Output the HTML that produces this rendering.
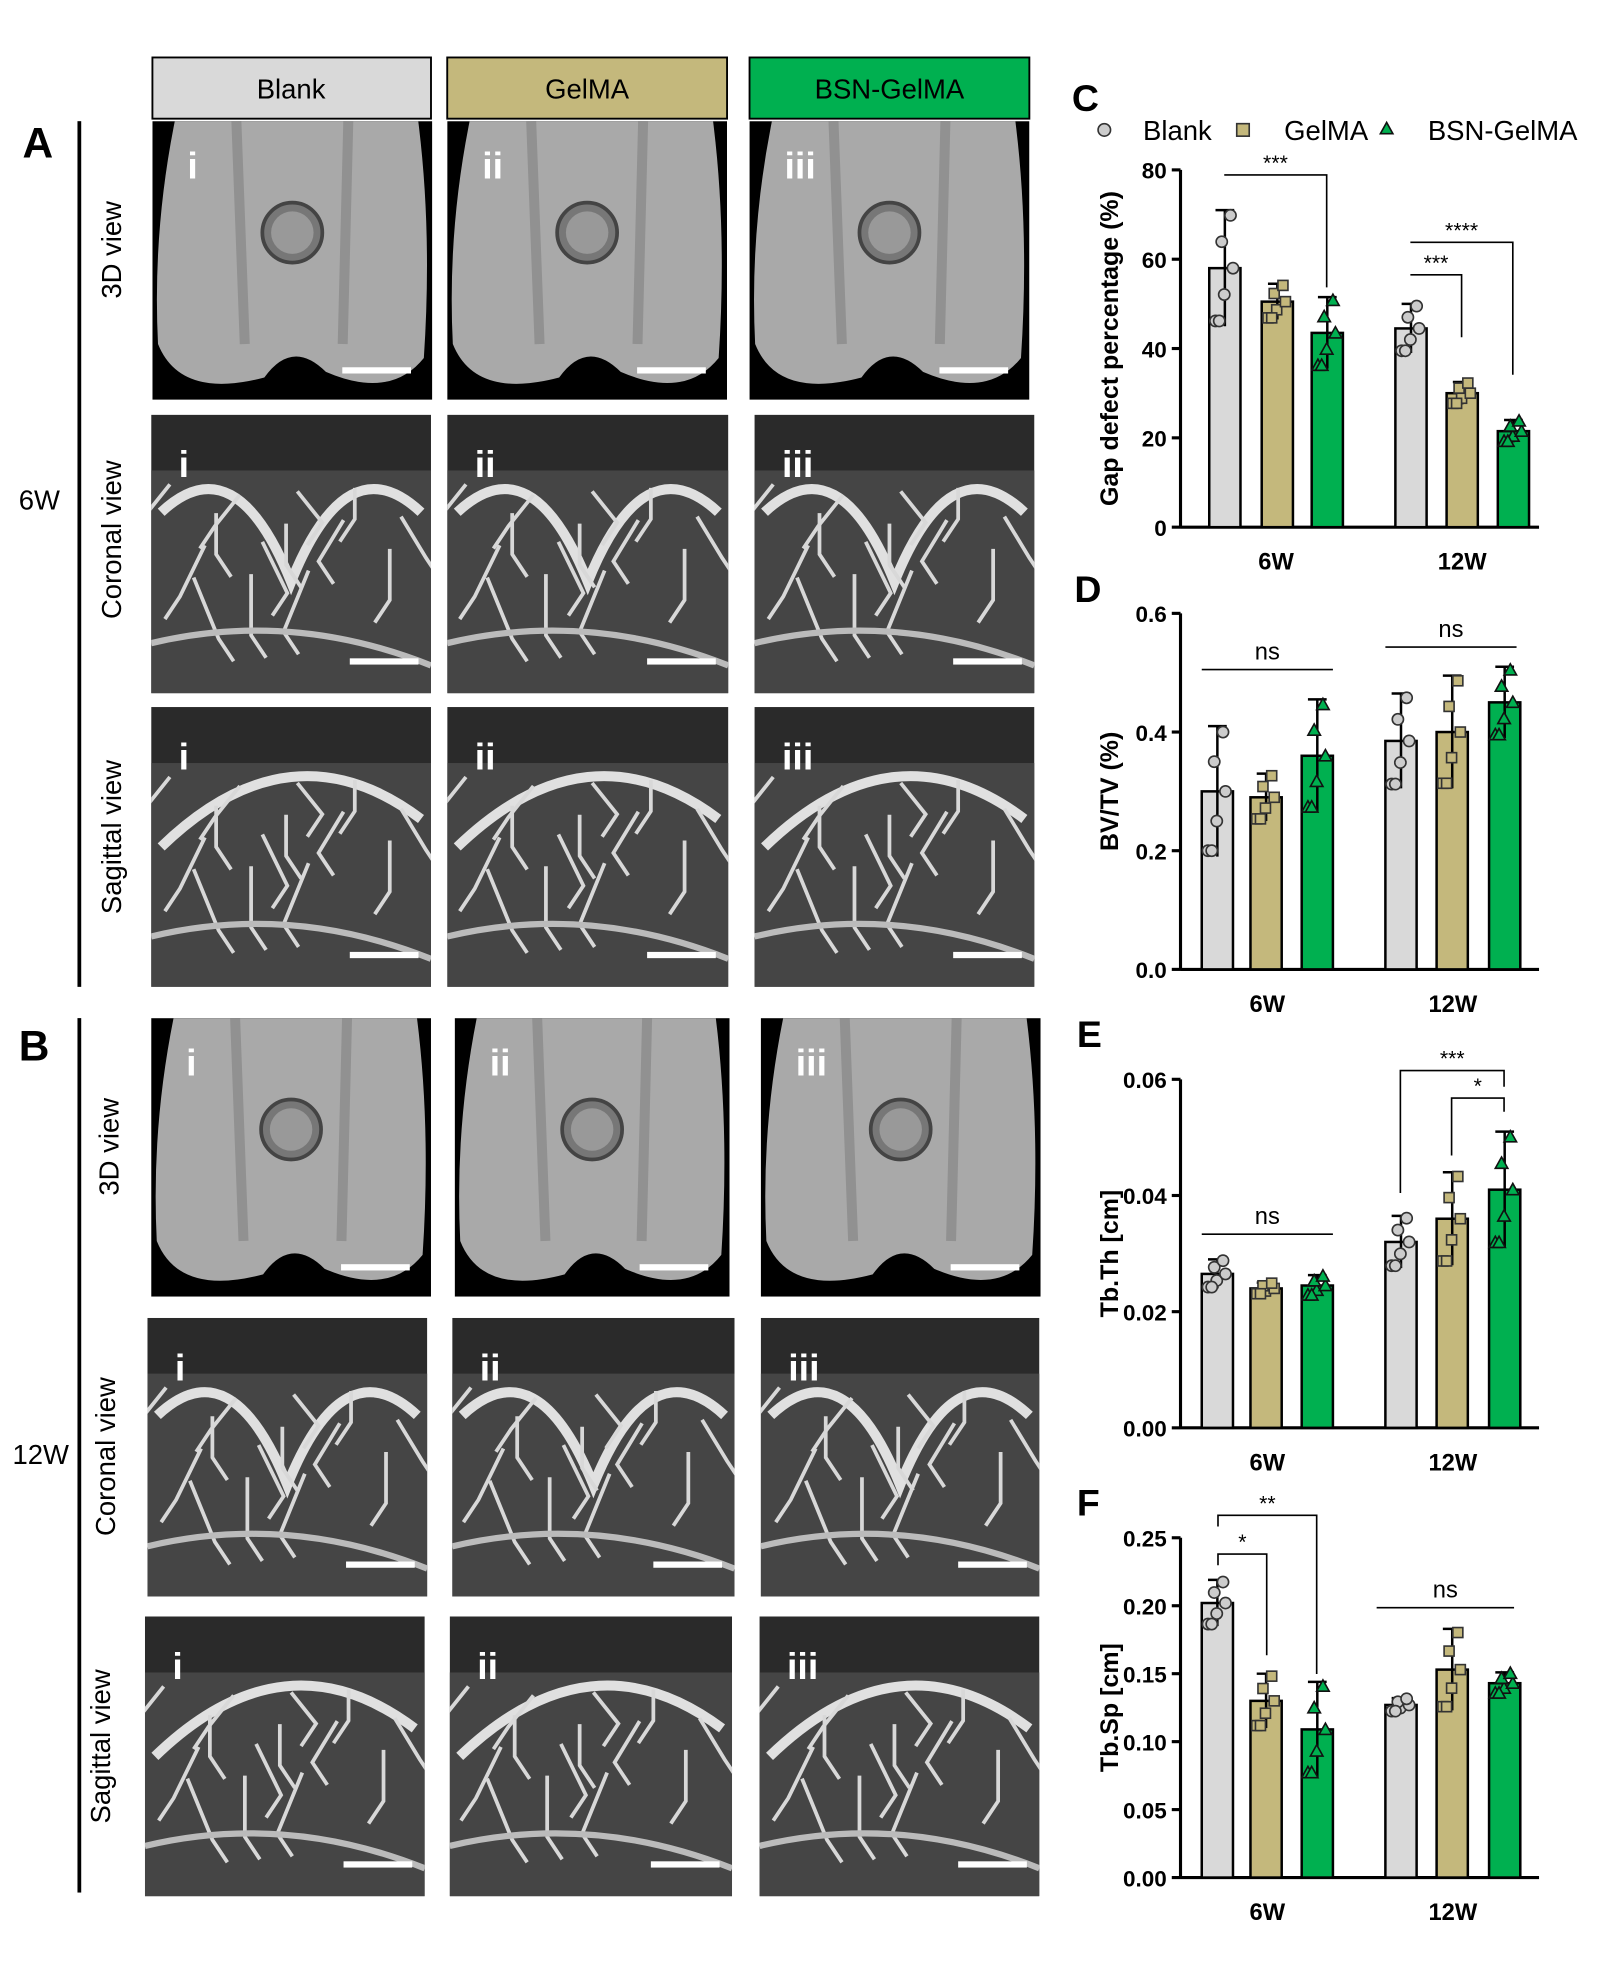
<!DOCTYPE html>
<html><head><meta charset="utf-8"><style>html,body{margin:0;padding:0;background:#fff}svg{display:block}</style></head>
<body>
<svg id="s" width="1624" height="1970" viewBox="0 0 1300 1577" xmlns="http://www.w3.org/2000/svg" font-family="Liberation Sans, Arial, sans-serif"></svg>
<script>
const s=document.getElementById('s');let h='';let cid=0;
function R(x,y,w,hh,f,extra){h+=`<rect x="${x}" y="${y}" width="${w}" height="${hh}" fill="${f}" ${extra||''}/>`;}
function T(x,y,t,sz,extra){h+=`<text x="${x}" y="${y}" font-size="${sz}" ${extra||''}>${t}</text>`;}
function clipOpen(x,y,w,hh){cid++;h+=`<clipPath id="c${cid}"><rect x="${x}" y="${y}" width="${w}" height="${hh}"/></clipPath><g clip-path="url(#c${cid})">`;}
// headers
R(122,46,223,49,'#d9d9d9','stroke="#000" stroke-width="1.5"');T(233,79,'Blank',22,'text-anchor="middle"');
R(358,46,224,49,'#c4b87c','stroke="#000" stroke-width="1.5"');T(470,79,'GelMA',22,'text-anchor="middle"');
R(600,46,224,49,'#00b050','stroke="#000" stroke-width="1.5"');T(712,79,'BSN-GelMA',22,'text-anchor="middle"');
const rn=['i','ii','iii'];
function img3d(x,y,w,hh,k){clipOpen(x,y,w,hh);R(x,y,w,hh,'#000');
 h+=`<path d="M${x+w*0.08} ${y} L${x+w*0.95} ${y} Q${x+w} ${y+hh*0.4} ${x+w*0.97} ${y+hh*0.85} Q${x+w*0.85} ${y+hh} ${x+w*0.62} ${y+hh*0.9} Q${x+w*0.5} ${y+hh*0.78} ${x+w*0.4} ${y+hh*0.92} Q${x+w*0.1} ${y+hh} ${x+w*0.02} ${y+hh*0.8} Q${x} ${y+hh*0.4} ${x+w*0.08} ${y} Z" fill="#a9a9a9"/>`;
 h+=`<path d="M${x+w*0.3} ${y} L${x+w*0.33} ${y+hh*0.8} M${x+w*0.7} ${y} L${x+w*0.68} ${y+hh*0.8}" stroke="#7a7a7a" stroke-width="8" opacity="0.5"/>`;
 h+=`<circle cx="${x+w*0.5}" cy="${y+hh*0.4}" r="24" fill="#777" stroke="#444" stroke-width="3"/><circle cx="${x+w*0.5}" cy="${y+hh*0.4}" r="17" fill="#999"/>`;
 T(x+28,y+46,rn[k],30,'fill="#fff" font-weight="bold"');
 R(x+w-72,y+hh-26,55,5,'#fff');h+='</g>';}
function imgsec(x,y,w,hh,k,cor){clipOpen(x,y,w,hh);R(x,y,w,hh,'#2a2a2a');R(x,y+hh*0.2,w,hh*0.8,'#454545');
 let d=cor?`M${x+8} ${y+hh*0.35} Q${x+w*0.3} ${y+hh*0.1} ${x+w*0.5} ${y+hh*0.6} Q${x+w*0.7} ${y+hh*0.1} ${x+w-8} ${y+hh*0.35}`:`M${x+8} ${y+hh*0.5} Q${x+w*0.5} ${y+hh*0.05} ${x+w-8} ${y+hh*0.4}`;
 h+=`<path d="${d}" stroke="#e0e0e0" stroke-width="8" fill="none"/>`;
 for(let i=0;i<14;i++){const a=x+15+((i*37)%(w-30)),b=y+hh*0.25+((i*23)%(hh*0.4));h+=`<path d="M${a} ${b} l${(i%3-1)*20} ${25+i%4*8} l${(i%2?12:-12)} 18" stroke="#d8d8d8" stroke-width="3" fill="none"/>`;}
 h+=`<path d="M${x} ${y+hh*0.82} Q${x+w*0.5} ${y+hh*0.7} ${x+w} ${y+hh*0.9}" stroke="#bbb" stroke-width="5" fill="none"/>`;
 T(x+22,y+50,rn[k],30,'fill="#fff" font-weight="bold"');R(x+w-65,y+hh-28,55,5,'#fff');h+='</g>';}
[[122,224],[358,224],[600,224]].forEach((c,k)=>img3d(c[0],97,c[1],223,k));
[[121,224],[358,225],[604,224]].forEach((c,k)=>imgsec(c[0],332,c[1],223,k,1));
[[121,224],[358,225],[604,224]].forEach((c,k)=>imgsec(c[0],566,c[1],224,k,0));
[[121,224],[364,220],[609,224]].forEach((c,k)=>img3d(c[0],815,c[1],223,k));
[[118,224],[362,226],[609,223]].forEach((c,k)=>imgsec(c[0],1055,c[1],223,k,1));
[[116,224],[360,226],[608,224]].forEach((c,k)=>imgsec(c[0],1294,c[1],224,k,0));
R(62,97,3,693,'#000');R(62,815,3,700,'#000');
T(18,126,'A',34,'font-weight="bold"');T(15,849,'B',34,'font-weight="bold"');
T(15,408,'6W',22);T(10,1172,'12W',22);
function rot(x,y,t){h+=`<text transform="translate(${x},${y}) rotate(-90)" font-size="22" text-anchor="middle">${t}</text>`;}
rot(97,200,'3D view');rot(97,432,'Coronal view');rot(97,670,'Sagittal view');
rot(95,918,'3D view');rot(92,1166,'Coronal view');rot(88,1398,'Sagittal view');
const cols=['#d9d9d9','#c4b87c','#00b050'];
function chart(o){const{x0,ytop,ybot,max,ticks,fmt,vals,xs,ylab,L,sig}=o;const sc=(ybot-ytop)/max;
 const Y=v=>ybot-v*sc;
 h+=`<line x1="${x0}" y1="${ytop}" x2="${x0}" y2="${ybot}" stroke="#000" stroke-width="2.5"/><line x1="${x0}" y1="${ybot}" x2="1232" y2="${ybot}" stroke="#000" stroke-width="2.5"/>`;
 ticks.forEach(t=>{h+=`<line x1="${x0-7}" y1="${Y(t)}" x2="${x0}" y2="${Y(t)}" stroke="#000" stroke-width="2.5"/>`;T(x0-11,Y(t)+7,fmt(t),18,'text-anchor="end" font-weight="bold"');});
 vals.forEach((v,i)=>{const x=xs[i],g=i%3;R(x,Y(v[0]),25,ybot-Y(v[0]),cols[g],'stroke="#000" stroke-width="2"');
  h+=`<line x1="${x+12.5}" y1="${Y(v[0]+v[1])}" x2="${x+12.5}" y2="${Y(v[0]-v[1])}" stroke="#000" stroke-width="2"/><line x1="${x+5}" y1="${Y(v[0]+v[1])}" x2="${x+20}" y2="${Y(v[0]+v[1])}" stroke="#000" stroke-width="2"/>`;
  for(let j=0;j<6;j++){const px=x+5+(j*7)%16,py=Y(v[0]+v[1]*((j%5)-2)/2.2);
   if(g==0)h+=`<circle cx="${px}" cy="${py}" r="4.5" fill="#ccc" stroke="#333" stroke-width="1.3"/>`;
   else if(g==1)h+=`<rect x="${px-4}" y="${py-4}" width="8" height="8" fill="#c4b87c" stroke="#333" stroke-width="1.3"/>`;
   else h+=`<path d="M${px} ${py-5} l5 9 h-10z" fill="#00b050" stroke="#111" stroke-width="1.3"/>`;}
 });
 T((xs[0]+xs[2]+25)/2,ybot+34,'6W',19,'text-anchor="middle" font-weight="bold"');T((xs[3]+xs[5]+25)/2,ybot+34,'12W',19,'text-anchor="middle" font-weight="bold"');
 h+=`<text transform="translate(${x0-50},${(ytop+ybot)/2}) rotate(-90)" font-size="20" font-weight="bold" text-anchor="middle">${ylab}</text>`;
 T(L[0],L[1],L[2],30,'font-weight="bold"');
 (sig||[]).forEach(q=>{const[a,b,y,t]=q;if(b===null){h+=`<line x1="${a[0]}" y1="${y}" x2="${a[1]}" y2="${y}" stroke="#000" stroke-width="1.3"/>`;T((a[0]+a[1])/2,y-8,t,19,'text-anchor="middle"');}
  else{h+=`<path d="M${a[0]} ${a[1]} V${y} H${b[0]} V${b[1]}" stroke="#000" stroke-width="1.3" fill="none"/>`;T((a[0]+b[0])/2,y-4,t,17,'text-anchor="middle"');}});
}
chart({x0:945,ytop:136,ybot:422,max:80,ticks:[0,20,40,60,80],fmt:t=>t,vals:[[58,13],[50.5,4],[43.5,8],[44.5,5.5],[30,2.5],[21.5,2.5]],xs:[968,1010,1050,1117,1158,1199],ylab:'Gap defect percentage (%)',L:[858,89,'C'],
 sig:[[[980,140],[1062,230],140,'***'],[[1129,220],[1170,270],220,'***'],[[1129,194],[1211,300],194,'****']]});
chart({x0:945,ytop:491,ybot:776,max:0.6,ticks:[0,0.2,0.4,0.6],fmt:t=>t.toFixed(1),vals:[[.30,.11],[.29,.04],[.36,.095],[.385,.08],[.40,.095],[.45,.06]],xs:[962,1001,1042,1109,1150,1192],ylab:'BV/TV (%)',L:[860,482,'D'],
 sig:[[[962,1067],null,536,'ns'],[[1109,1214],null,518,'ns']]});
chart({x0:945,ytop:864,ybot:1143,max:0.06,ticks:[0,0.02,0.04,0.06],fmt:t=>t.toFixed(2),vals:[[.0265,.0025],[.024,.001],[.0245,.0018],[.032,.0045],[.036,.008],[.041,.01]],xs:[962,1001,1042,1109,1150,1192],ylab:'Tb.Th [cm]',L:[862,838,'E'],
 sig:[[[962,1067],null,988,'ns'],[[1121,955],[1204,870],857,'***'],[[1162,925],[1204,890],879,'*']]});
chart({x0:945,ytop:1231,ybot:1503,max:0.25,ticks:[0,.05,.1,.15,.2,.25],fmt:t=>t.toFixed(2),vals:[[.202,.017],[.130,.02],[.109,.035],[.127,.005],[.153,.03],[.143,.008]],xs:[962,1001,1042,1109,1150,1192],ylab:'Tb.Sp [cm]',L:[862,1213,'F'],
 sig:[[[975,1253],[1014,1325],1244,'*'],[[975,1222],[1054,1340],1213,'**'],[[1102,1212],null,1287,'ns']]});
h+=`<circle cx="884" cy="104" r="5" fill="#ccc" stroke="#333" stroke-width="1.3"/>`;T(915,112,'Blank',22);
R(990,99,10,10,'#c4b87c','stroke="#333" stroke-width="1.3"');T(1028,112,'GelMA',22);
h+=`<path d="M1110 98 l5 9 h-10z" fill="#00b050" stroke="#111" stroke-width="1.3"/>`;T(1143,112,'BSN-GelMA',22);
s.innerHTML=h;
</script>
</body></html>
